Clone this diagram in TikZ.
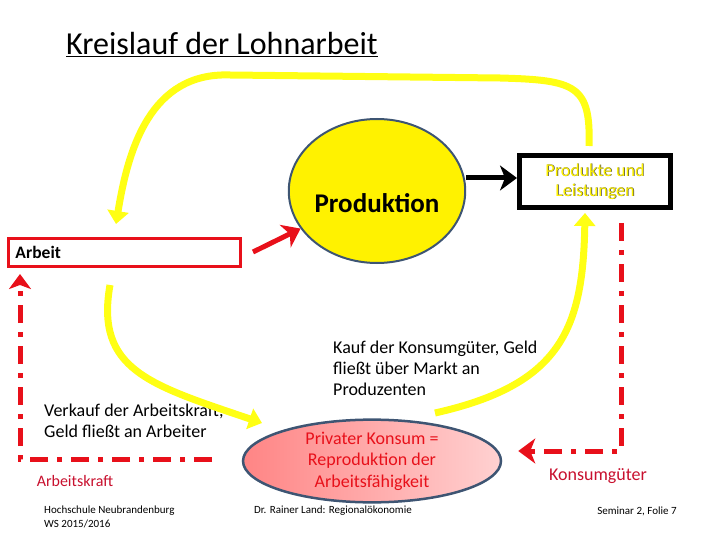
\documentclass[tikz,border=0pt]{standalone}
\usepackage{fontspec}
\setmainfont{Carlito}
\usetikzlibrary{arrows.meta,shapes.geometric}

\definecolor{gelb}{HTML}{FFFF14}
\definecolor{rot}{HTML}{E8101A}
\definecolor{dunkelrot}{HTML}{C8102E}
\definecolor{rand}{HTML}{3E5573}

\begin{document}
\begin{tikzpicture}[x=1pt,y=-1pt,
    flow/.style={gelb,line width=7pt,-{Triangle[length=13pt,width=21pt]}},
    spitze/.style={-{Stealth[length=17pt,width=25pt,inset=5pt]}},
    ruecklauf/.style={rot,line width=5pt,dash pattern=on 18pt off 9pt on 5pt off 9pt},
    txt/.style={font=\fontsize{18}{21}\selectfont,align=left,inner sep=0pt},
    fuss/.style={font=\fontsize{11}{14}\selectfont,inner sep=0pt}]
      \useasboundingbox (0,0) rectangle (720,540);

      % Titel
      \node[anchor=west,font=\fontsize{32}{36}\selectfont,inner sep=0pt] (titel) at (66,45) {\underline{Kreislauf der Lohnarbeit}};

      % Knoten
      \node[ellipse,draw=rand,line width=2pt,fill=yellow,minimum width=170pt,minimum height=144pt,inner sep=0pt,font=\fontsize{27}{30}\selectfont\bfseries] (prod) at (377,191) {\raisebox{-21pt}[0pt][0pt]{Produktion}};
      \node[draw=black,line width=5pt,minimum width=151pt,minimum height=52pt,inner sep=0pt] (leist) at (595,181.5) {};
      \node[font=\fontsize{18}{20}\selectfont,align=center,text=black!70] at (595.7,182.2) {Produkte und\\Leistungen};
      \node[font=\fontsize{18}{20}\selectfont,align=center,text=yellow] (leisttext) at (595,181.5) {Produkte und\\Leistungen};
      \node[draw=rot,line width=3pt,minimum width=232pt,minimum height=28pt,text width=218pt,inner xsep=7pt,align=left,font=\fontsize{17.5}{20}\selectfont\bfseries] (arbeit) at (124.5,252.5) {Arbeit};
      \node[ellipse,draw=rand,line width=2.5pt,left color=red!48,right color=red!18,minimum width=258pt,minimum height=73pt,inner sep=0pt,align=center,text=rot,font=\fontsize{18}{21.5}\selectfont] (konsum) at (372,461) {Privater Konsum =\\Reproduktion der\\Arbeitsfähigkeit};

      % Eckpunkte
      \coordinate (obenstart) at (589,146);
      \coordinate (obenende) at (116,224);
      \coordinate (akstart) at (110,285);
      \coordinate (akende) at (262,423);
      \coordinate (kstart) at (435,413);
      \coordinate (kende) at (585,213);
      \coordinate (rstart) at (621,223);
      \coordinate (rechts) at (621,451);
      \coordinate (links) at (212,459);
      \coordinate (ecke) at (20,459);
      \coordinate (lende) at (20,274);

      % Texte
      \node[txt,anchor=west] (kauf) at (333,368) {Kauf der Konsumgüter, Geld\\fließt über Markt an\\Produzenten};
      \node[txt,anchor=west] (verkauf) at (44,420.5) {Verkauf der Arbeitskraft,\\Geld fließt an Arbeiter};
      \node[txt,font=\fontsize{16}{20}\selectfont,text=dunkelrot] (akraft) at (75,481) {Arbeitskraft};
      \node[txt,text=dunkelrot] (kgueter) at (598,476) {Konsumgüter};

      % Fusszeile
      \node[fuss,anchor=west,align=left] (hs) at (44,517) {Hochschule Neubrandenburg\\WS 2015/2016};
      \node[fuss] (autor) at (333,511) {Dr. Rainer Land: Regionalökonomie};
      \node[fuss] (folie) at (637,511) {Seminar 2, Folie 7};

      % Pfeile
      \draw[black,line width=5pt,spitze] (prod.east |- 0,178) -- (leist.west |- 0,178);
      \draw[rot,line width=5pt,spitze] (253,252) -- (prod);
      \draw[flow] (obenstart) .. controls (591,85) and (575,80) .. (500,78) -- (230,75) .. controls (150,72) and (128,150) .. (obenende);
      \draw[flow] (akstart) .. controls (95,370) and (150,385) .. (akende);
      \draw[flow] (kstart) .. controls (560,385) and (583,330) .. (kende);
      \draw[ruecklauf,spitze,shorten >=16pt] (rstart) -- (rechts) -- (konsum.east |- rechts);
      \draw[ruecklauf,-{Stealth[length=15pt,width=22pt,inset=4pt]}] (links) -- (ecke) -- (lende);
    \end{tikzpicture}
\end{document}
